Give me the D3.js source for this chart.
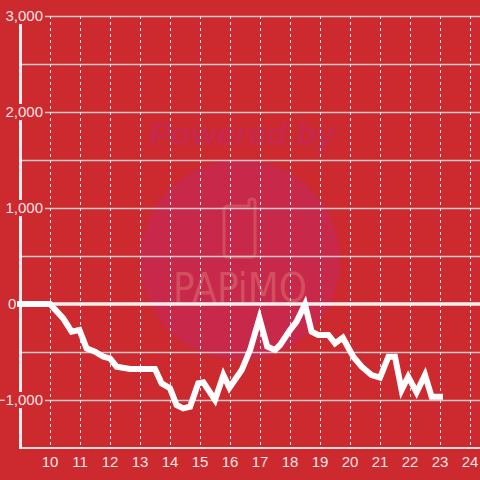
<!DOCTYPE html>
<html>
<head>
<meta charset="utf-8">
<script src="https://cdn.jsdelivr.net/npm/d3@7"></script>
<style>
html,body{margin:0;padding:0;background:#cc2a2f;}
svg{display:block;}
</style>
</head>
<body>
<svg id="chart" width="480" height="480"></svg>
<script>
// Data
const hours = [9, 10, 10.44, 10.72, 10.98, 11.22, 11.5, 11.78, 12.0, 12.22, 12.67, 13.5, 13.72, 14.0, 14.22, 14.44, 14.67, 14.94, 15.11, 15.5, 15.78, 15.98, 16.39, 16.67, 16.98, 17.24, 17.5, 17.67, 18.0, 18.22, 18.5, 18.72, 18.94, 19.28, 19.5, 19.76, 20.11, 20.39, 20.72, 21.0, 21.28, 21.5, 21.72, 21.94, 22.22, 22.5, 22.72, 23.0];
const values = [0, 0, -150, -288, -271, -462, -497, -549, -566, -653, -677, -677, -826, -878, -1052, -1087, -1069, -826, -816, -1000, -740, -872, -688, -479, -149, -444, -479, -427, -271, -184, -3, -288, -323, -323, -410, -351, -549, -653, -740, -767, -549, -549, -896, -757, -920, -740, -965, -965];
const yTicks = [-1000, 0, 1000, 2000, 3000];
const yGrid = [-1000, -500, 500, 1000, 1500, 2000, 2500, 3000];
const xTicks = [10, 11, 12, 13, 14, 15, 16, 17, 18, 19, 20, 21, 22, 23, 24];

const W = 480, H = 480, BG = "#cc2a2f";
const svg = d3.select("#chart");
const x = d3.scaleLinear().domain([9, 24.3333]).range([20, 480]);
const y = d3.scaleLinear().domain([-1500, 3000]).range([448, 16]);

svg.append("rect").attr("width", W).attr("height", H).attr("fill", BG);

// watermark
const wm = svg.append("g");
wm.append("circle").attr("cx", 240).attr("cy", 260).attr("r", 100).attr("fill", "#c8284a");
wm.append("text").attr("x", 242).attr("y", 145).attr("text-anchor", "middle")
  .attr("font-family", "Liberation Sans, Arial, sans-serif").attr("font-weight", "bold")
  .attr("font-style", "italic").attr("font-size", 31).attr("fill", "#c7284c")
  .attr("textLength", 186).attr("lengthAdjust", "spacingAndGlyphs").text("Powered by");
wm.append("path")
  .attr("d", "M229,206 L249,206 L249,201 Q249,199 252,199 Q255,199 255,202 L255,253 Q255,257 251,257 L228,257 Q224,257 224,253 L224,210 Q224,206 229,206 Z")
  .attr("fill", "none").attr("stroke", "#d24c5e").attr("stroke-width", 3);
wm.append("text").attr("x", 240).attr("y", 302).attr("text-anchor", "middle")
  .attr("font-family", "DejaVu Sans, sans-serif").attr("font-weight", "normal")
  .attr("font-size", 40).attr("fill", "#d24f60")
  .attr("textLength", 134).attr("lengthAdjust", "spacingAndGlyphs").text("PAPiMO");

// horizontal grid
svg.append("g").selectAll("line").data(yGrid).join("line")
  .attr("x1", 20).attr("x2", 480)
  .attr("y1", d => Math.round(y(d)) + 0.5).attr("y2", d => Math.round(y(d)) + 0.5)
  .attr("stroke", "#d2c8c8").attr("stroke-width", 1.3);

// vertical dashed grid
svg.append("g").selectAll("line").data(xTicks).join("line")
  .attr("x1", d => Math.round(x(d)) + 0.5).attr("x2", d => Math.round(x(d)) + 0.5)
  .attr("y1", 16).attr("y2", 448)
  .attr("stroke", "#f0e4e4").attr("stroke-width", 1).attr("stroke-dasharray", "3,3");

// zero line
svg.append("line").attr("x1", 20).attr("x2", 480).attr("y1", y(0)).attr("y2", y(0))
  .attr("stroke", "#f5efef").attr("stroke-width", 3.5);

// bottom axis line
svg.append("line").attr("x1", 20).attr("x2", 480).attr("y1", 448).attr("y2", 448)
  .attr("stroke", "#e2dcdc").attr("stroke-width", 2);

// y axis line
svg.append("line").attr("x1", 20.5).attr("x2", 20.5).attr("y1", 16).attr("y2", 449)
  .attr("stroke", "#f2eeee").attr("stroke-width", 3);

// y labels with background
const yl = svg.append("g").selectAll("g").data(yTicks).join("g");
yl.each(function(d) {
  const g = d3.select(this);
  const zero = d === 0;
  const t = g.append("text").attr("x", zero ? 8 : 43).attr("y", y(d)).attr("dy", "0.36em")
    .attr("text-anchor", zero ? "start" : "end").attr("font-family", "Liberation Sans, Arial, sans-serif")
    .attr("font-size", 15).attr("fill", "#f3e4e4").text(d3.format(",")(d));
  const b = t.node().getBBox();
  const right = zero ? b.x + b.width + 1 : 45;
  g.insert("rect", "text").attr("x", b.x - 1).attr("y", y(d) - 8)
    .attr("width", right - (b.x - 1)).attr("height", 16).attr("fill", BG);
});

// x labels
svg.append("g").selectAll("text").data(xTicks).join("text")
  .attr("x", d => x(d)).attr("y", 467).attr("text-anchor", "middle")
  .attr("font-family", "Liberation Sans, Arial, sans-serif").attr("font-size", 15)
  .attr("fill", "#f3e4e4").text(d => d);

// data line
const line = d3.line().x((d, i) => x(hours[i])).y(d => y(d));
svg.append("path").datum(values).attr("d", line)
  .attr("fill", "none").attr("stroke", "#ffffff").attr("stroke-width", 6)
  .attr("stroke-linecap", "square").attr("stroke-linejoin", "miter");
</script>
</body>
</html>
